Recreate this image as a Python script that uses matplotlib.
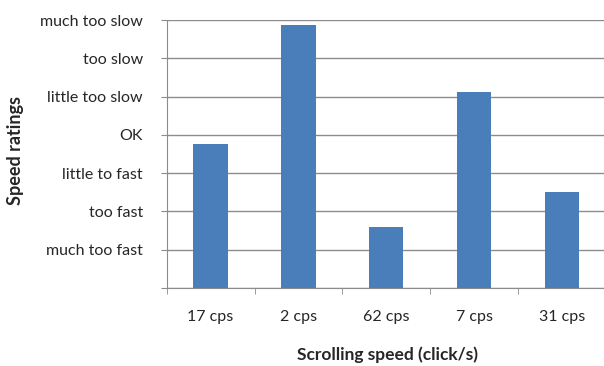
import numpy as np
import matplotlib.pyplot as plt

### 0. Data
speeds = ['17 cps', '2 cps', '62 cps', '7 cps', '31 cps']
ratings = [3.76, 6.87, 1.6, 5.11, 2.5]
rating_labels = ['', 'much too fast', 'too fast', 'little to fast', 'OK',
                 'little too slow', 'too slow', 'much too slow']

### 1. Style
plt.rcParams['font.family'] = ['Lato', 'DejaVu Sans']
grey = '#8c8c8c'
txt = '#262626'

### 2. Plot
fig = plt.figure(figsize=(6.04, 3.66), dpi=100)
ax = fig.add_axes([0.276, 0.213, 0.727, 0.732])

xx = np.arange(len(speeds))
ax.bar(xx, ratings, width=0.39, color='#4a7ebb', zorder=3)

ax.set_xlim(-0.5, len(speeds) - 0.5)
ax.set_ylim(0, 7)
ax.set_yticks(range(len(rating_labels)))
ax.set_yticklabels(rating_labels, fontsize=11.5, color=txt)
ax.set_xticks(xx)
ax.set_xticklabels(speeds, fontsize=11.5, color=txt)
ax.set_xticks(np.arange(len(speeds) + 1) - 0.5, minor=True)

ax.tick_params(axis='x', which='major', length=0, pad=16)
ax.tick_params(axis='x', which='minor', length=4, color=grey, direction='out')
ax.tick_params(axis='y', length=4, color=grey, pad=13)

ax.grid(axis='y', color=grey, linewidth=1.0, zorder=0)
for side in ['top', 'right']:
    ax.spines[side].set_visible(False)
for side in ['left', 'bottom']:
    ax.spines[side].set_color(grey)

fig.text(0.025, 0.59, 'Speed ratings', rotation=90, fontsize=13,
         fontweight='bold', color=txt, ha='center', va='center')
fig.text(0.641, 0.03, 'Scrolling speed (click/s)', fontsize=12.5,
         fontweight='bold', color=txt, ha='center', va='center')

plt.savefig('out.png', dpi=100)
